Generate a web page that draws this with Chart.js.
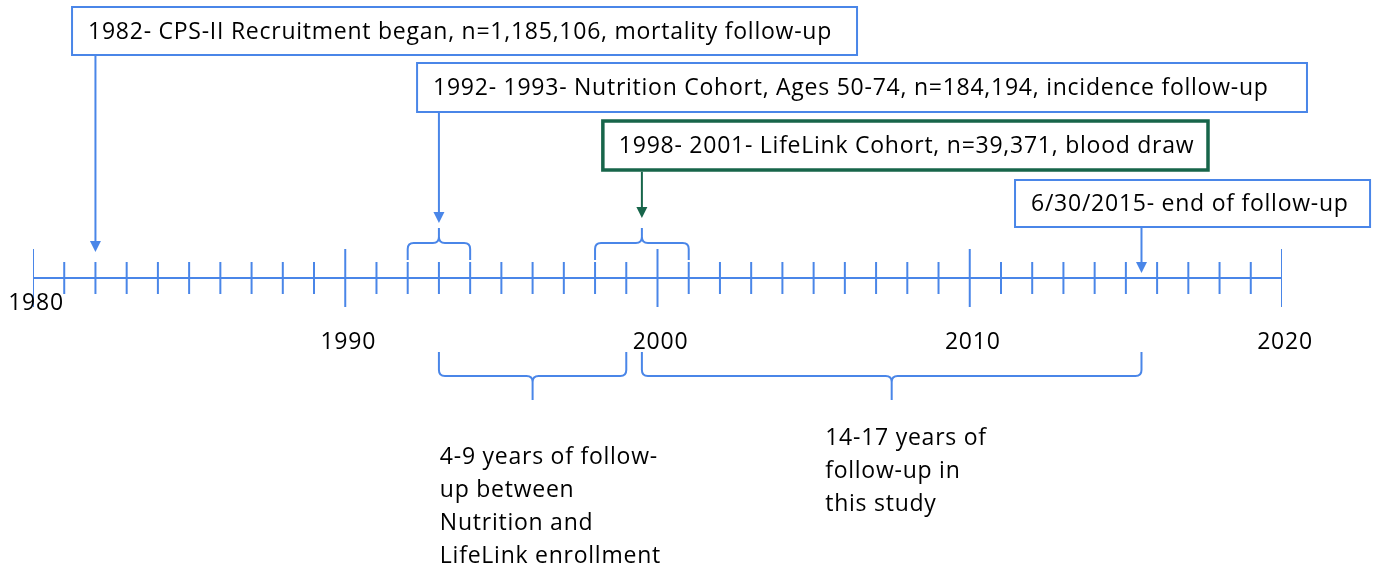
<!DOCTYPE html>
<html>
<head>
<meta charset="utf-8">
<script src="https://cdn.jsdelivr.net/npm/chart.js@4"></script>
<style>
  html, body { margin: 0; padding: 0; background: #fff; }
  canvas { display: block; }
</style>
</head>
<body>
<canvas id="timeline" width="1375" height="571"></canvas>
<script>
// --- data ---
const majorYears = [1980, 1990, 2000, 2010, 2020];
const minorYears = [];
for (let yr = 1981; yr < 2020; yr++) if (yr % 10 !== 0) minorYears.push(yr);

const eventTexts = [
  '1982- CPS-II Recruitment began, n=1,185,106, mortality follow-up',
  '1992- 1993- Nutrition Cohort, Ages 50-74, n=184,194, incidence follow-up',
  '1998- 2001- LifeLink Cohort, n=39,371, blood draw',
  '6/30/2015- end of follow-up'
];
const eventYears = [1982, 1993, 1999.5, 2015.5]; // where each arrow points
const upperBraces = [[1992, 1994], [1998, 2001]];
const lowerBraces = [[1993, 1999], [1999.5, 2015.5]];
const lowerTexts = [
  ['4-9 years of follow-', 'up between', 'Nutrition and', 'LifeLink enrollment'],
  ['14-17 years of', 'follow-up in', 'this study']
];

// --- layout / style ---
const BLUE = '#4a86e8';
const GREEN = '#17654a';
const FONT = '23px "Open Sans", "Noto Sans", sans-serif';
const AXIS_Y = 278;
const boxLeft = [1981.25, 1992.3, 1998.25, 2011.45];   // in years
const boxRight = [2006.39, 2020.8, 2017.63, 2022.82];
const boxTop = [7, 63, 121, 180];
const boxBottom = [55, 112, 170, 227];
const arrowTip = [252, 223, 218, 273];
const boxColor = [BLUE, BLUE, GREEN, BLUE];
const boxWidth = [2, 2, 3.5, 2];
const lowerTextX = [1993.03, 2005.37];
const lowerTextY = [457, 438];

const notes = {
  id: 'notes',
  afterDatasetsDraw(chart) {
    const ctx = chart.ctx;
    const x = chart.scales.x, y = chart.scales.y;
    ctx.save();
    ctx.font = FONT;
    ctx.letterSpacing = '0.75px'; // calibri-ish width
    ctx.textBaseline = 'middle';
    ctx.lineCap = 'butt';

    // year labels
    ctx.fillStyle = '#000';
    ctx.textAlign = 'center';
    majorYears.forEach((yr, i) => {
      ctx.fillText(String(yr), x.getPixelForValue(yr) + 3, y.getPixelForValue(i === 0 ? 303 : 342));
    });

    // boxes + arrows
    eventTexts.forEach((t, i) => {
      const l = x.getPixelForValue(boxLeft[i]), r = x.getPixelForValue(boxRight[i]);
      const top = y.getPixelForValue(boxTop[i]), bot = y.getPixelForValue(boxBottom[i]);
      ctx.fillStyle = '#fff';
      ctx.fillRect(l, top, r - l, bot - top);
      ctx.strokeStyle = boxColor[i];
      ctx.lineWidth = boxWidth[i];
      ctx.strokeRect(l, top, r - l, bot - top);
      ctx.fillStyle = '#000';
      ctx.textAlign = 'left';
      ctx.fillText(t, l + 16, (top + bot) / 2 + 1);

      const ax = x.getPixelForValue(eventYears[i]);
      const tip = y.getPixelForValue(arrowTip[i]);
      ctx.strokeStyle = i === 2 ? GREEN : BLUE;
      ctx.fillStyle = ctx.strokeStyle;
      ctx.lineWidth = 2;
      ctx.beginPath();
      ctx.moveTo(ax, bot + boxWidth[i] / 2);
      ctx.lineTo(ax, tip - 9);
      ctx.stroke();
      ctx.beginPath();
      ctx.moveTo(ax - 5.5, tip - 11);
      ctx.lineTo(ax + 5.5, tip - 11);
      ctx.lineTo(ax, tip);
      ctx.closePath();
      ctx.fill();
    });

    // braces
    const rr = 6;
    ctx.strokeStyle = BLUE;
    ctx.lineWidth = 2;
    function brace(x1, x2, yEnd, yBar, yNub) {
      const xc = (x1 + x2) / 2;
      const d = yEnd > yBar ? 1 : -1; // direction of the ends
      ctx.beginPath();
      ctx.moveTo(x1, yEnd);
      ctx.lineTo(x1, yBar + d * rr);
      ctx.quadraticCurveTo(x1, yBar, x1 + rr, yBar);
      ctx.lineTo(xc - rr, yBar);
      ctx.quadraticCurveTo(xc, yBar, xc, yBar - d * rr);
      ctx.lineTo(xc, yNub);
      ctx.moveTo(xc, yBar - d * rr);
      ctx.quadraticCurveTo(xc, yBar, xc + rr, yBar);
      ctx.lineTo(x2 - rr, yBar);
      ctx.quadraticCurveTo(x2, yBar, x2, yBar + d * rr);
      ctx.lineTo(x2, yEnd);
      ctx.stroke();
    }
    upperBraces.forEach(([a, b]) => {
      brace(x.getPixelForValue(a), x.getPixelForValue(b), y.getPixelForValue(260), y.getPixelForValue(243), y.getPixelForValue(228));
    });
    lowerBraces.forEach(([a, b]) => {
      brace(x.getPixelForValue(a), x.getPixelForValue(b), y.getPixelForValue(352), y.getPixelForValue(376), y.getPixelForValue(400));
    });

    // lower notes
    ctx.fillStyle = '#000';
    ctx.textAlign = 'left';
    lowerTexts.forEach((lines, i) => {
      lines.forEach((line, j) => {
        ctx.fillText(line, x.getPixelForValue(lowerTextX[i]), y.getPixelForValue(lowerTextY[i] + j * 33));
      });
    });
    ctx.restore();
  }
};

new Chart(document.getElementById('timeline'), {
  type: 'scatter',
  data: {
    datasets: [
      { // the axis line
        type: 'line',
        data: [{ x: 1980, y: AXIS_Y }, { x: 2020, y: AXIS_Y }],
        borderColor: BLUE,
        borderWidth: 2,
        pointRadius: 0
      },
      { // small year ticks
        data: minorYears.map(v => ({ x: v, y: AXIS_Y })),
        pointStyle: 'line',
        rotation: 90,
        radius: 16,
        borderColor: BLUE,
        borderWidth: 2
      },
      { // decade ticks
        data: majorYears.map(v => ({ x: v, y: AXIS_Y })),
        pointStyle: 'line',
        rotation: 90,
        radius: 29,
        borderColor: BLUE,
        borderWidth: 2
      }
    ]
  },
  options: {
    responsive: false,
    animation: false,
    events: [],
    layout: { autoPadding: false, padding: { left: 33, right: 93, top: 0, bottom: 0 } },
    plugins: { legend: { display: false }, tooltip: { enabled: false } },
    scales: {
      x: { type: 'linear', min: 1980, max: 2020, display: false },
      y: { min: 0, max: 571, reverse: true, display: false }
    }
  },
  plugins: [notes]
});
</script>
</body>
</html>
